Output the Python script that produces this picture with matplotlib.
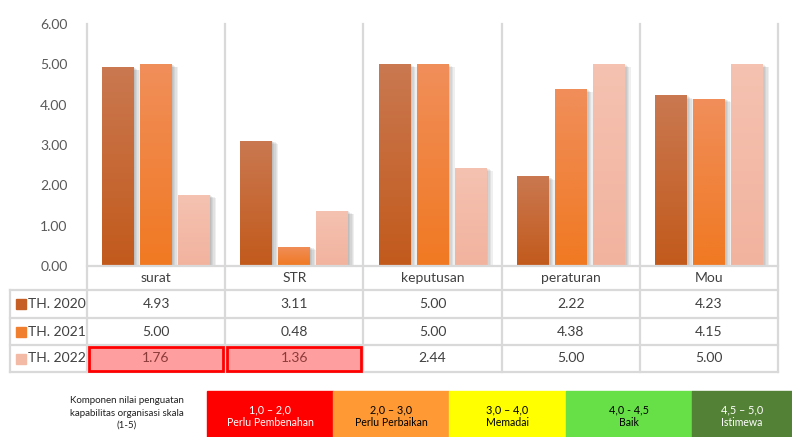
import numpy as np
import matplotlib
matplotlib.use('Agg')
import matplotlib.pyplot as plt
from matplotlib import patheffects
from matplotlib.colors import LinearSegmentedColormap
from matplotlib.patches import Rectangle

plt.rcParams['font.family'] = ['Lato', 'DejaVu Sans']

categories = ['surat', 'STR', 'keputusan', 'peraturan', 'Mou']
series_names = ['TH. 2020', 'TH. 2021', 'TH. 2022']
th2020 = [4.93, 3.11, 5.00, 2.22, 4.23]
th2021 = [5.00, 0.48, 5.00, 4.38, 4.15]
th2022 = [1.76, 1.36, 2.44, 5.00, 5.00]
highlight = [(2, 0), (2, 1)]  # (series, category) cells marked red

scale_ranges = ['1,0 – 2,0', '2,0 – 3,0', '3,0 – 4,0', '4,0 - 4,5', '4,5 – 5,0']
scale_labels = ['Perlu Pembenahan', 'Perlu Perbaikan', 'Memadai', 'Baik', 'Istimewa']
scale_colors = ['#FF0000', '#FF9933', '#FFFF00', '#66E046', '#538135']
scale_text = ['white', 'black', 'black', 'black', 'white']

series = [th2020, th2021, th2022]
grad = [('#CA7850', '#C25A1C'), ('#F08E5A', '#F07922'), ('#F5C2B1', '#F2B39E')]
swatch = ['#C55F25', '#F07F30', '#F3BBA6']

W, H = 792, 437
fig = plt.figure(figsize=(W / 100, H / 100), dpi=100)

L, R, T, B = 87, 778, 24, 266
ax = fig.add_axes([L / W, 1 - B / H, (R - L) / W, (B - T) / H])
n = len(categories)
x = np.arange(n)
bw, step = 0.23, 0.275
# soft drop shadow
shadow = [patheffects.SimplePatchShadow(offset=(dx, -dx / 2), alpha=0.09, shadow_rgbFace='#555555')
          for dx in (0.5, 1.5, 2.5, 3.5, 4.5)]
for i, vals in enumerate(series):
    bars = ax.bar(x + (i - 1) * step, vals, bw, color=grad[i][1], zorder=2,
                  path_effects=shadow + [patheffects.Normal()])
    cmap = LinearSegmentedColormap.from_list('g%d' % i, [grad[i][1], grad[i][0]])
    for b in bars:
        x0, w, h = b.get_x(), b.get_width(), b.get_height()
        im = ax.imshow(np.linspace(0, 1, 64).reshape(-1, 1), cmap=cmap, origin='lower',
                       extent=(x0, x0 + w, 0, h), aspect='auto', zorder=3)
        im.set_clip_path(b)

ax.set_xlim(-0.5, n - 0.5)
ax.set_ylim(0, 6)
ax.set_yticks(np.arange(0, 7, 1))
ax.set_yticklabels(['%.2f' % v for v in np.arange(0, 7, 1)], fontsize=10, color='#595959')
ax.tick_params(axis='y', length=0, pad=14)
ax.set_xticks([])
for s in ax.spines.values():
    s.set_visible(False)

# overlay in pixel coords for table and legend
ov = fig.add_axes([0, 0, 1, 1], facecolor='none')
ov.set_xlim(0, W)
ov.set_ylim(H, 0)
ov.axis('off')

grid_c = '#D9D9D9'
cw = (R - L) / n
xs = [L + k * cw for k in range(n + 1)]
rows = [290, 318, 345, 372]
for xv in xs:
    ov.plot([xv, xv], [T, rows[-1]], color=grid_c, lw=1.6, zorder=1)
ov.plot([L, R], [B, B], color=grid_c, lw=1.6)
for yv in rows:
    ov.plot([10, R], [yv, yv], color=grid_c, lw=1.6)
ov.plot([10, 10], [rows[0], rows[-1]], color=grid_c, lw=1.6)

for k, c in enumerate(categories):
    ov.text((xs[k] + xs[k + 1]) / 2, (B + rows[0]) / 2, c, ha='center', va='center',
            fontsize=10, color='#404040')

for i, vals in enumerate(series):
    yc = (rows[i] + rows[i + 1]) / 2
    ov.add_patch(Rectangle((16, yc - 5), 10, 10, color=swatch[i]))
    ov.text(28, yc, series_names[i], ha='left', va='center', fontsize=10, color='#404040')
    for k, v in enumerate(vals):
        col = '#404040'
        if (i, k) in highlight:
            ov.add_patch(Rectangle((xs[k] + 2, rows[i] + 1.5), cw - 4, rows[i + 1] - rows[i] - 3,
                                   facecolor='#FF9E9E', edgecolor='#FF0000', lw=2, zorder=3))
            col = '#8B3A3A'
        ov.text((xs[k] + xs[k + 1]) / 2, yc, '%.2f' % v, ha='center', va='center',
                fontsize=10, color=col, zorder=4)

# scale legend
ov.text(127, 413, 'Komponen nilai penguatan\nkapabilitas organisasi skala\n(1-5)', ha='center',
        va='center', fontsize=7, color='#202020', linespacing=1.5)
bx = [207, 333, 449, 566, 692, 792]
for k in range(len(scale_labels)):
    ov.add_patch(Rectangle((bx[k], 391), bx[k + 1] - bx[k], 46, color=scale_colors[k], zorder=2))
    cx = (bx[k] + bx[k + 1]) / 2
    ov.text(cx, 410, scale_ranges[k], ha='center', va='center', fontsize=7.8, color=scale_text[k], zorder=3)
    ov.text(cx, 422.5, scale_labels[k], ha='center', va='center', fontsize=7.6, color=scale_text[k], zorder=3)

fig.savefig('out.png', dpi=100)
